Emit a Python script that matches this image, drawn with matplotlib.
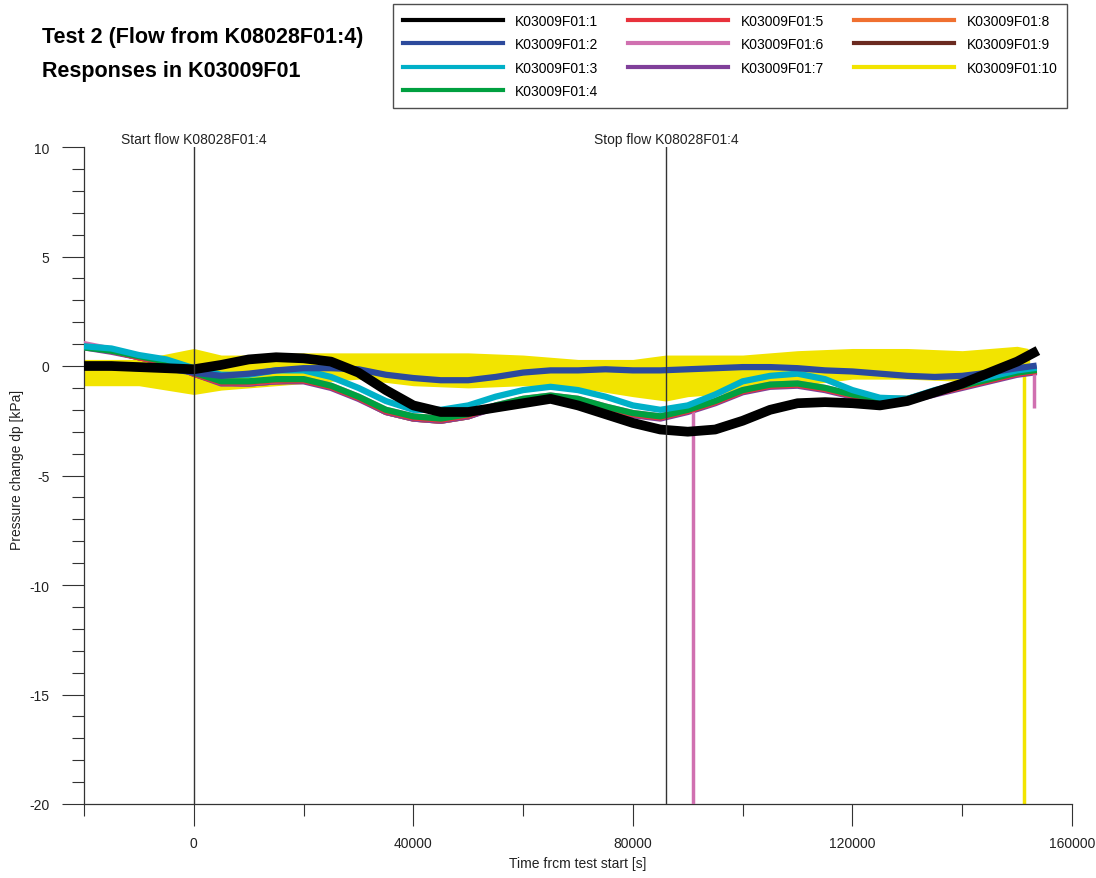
import matplotlib
matplotlib.use("Agg")
import matplotlib.pyplot as plt
from matplotlib.ticker import MultipleLocator, FixedLocator

plt.rcParams['font.family'] = ['Liberation Sans', 'DejaVu Sans']
plt.rcParams['axes.unicode_minus'] = False

# time axis (s) shared by the sensor traces
t = [-20000, -15000, -10000, -5000, 0, 5000, 10000, 15000, 20000, 25000,
     30000, 35000, 40000, 45000, 50000, 55000, 60000, 65000, 70000, 75000,
     80000, 85000, 90000, 95000, 100000, 105000, 110000, 115000, 120000,
     125000, 130000, 135000, 140000, 145000, 150000, 153000]

# pressure change dp [kPa]
dp1 = [0.0, 0.0, -0.05, -0.1, -0.15, 0.05, 0.3, 0.4, 0.35, 0.2, -0.3, -1.1,
       -1.8, -2.1, -2.1, -1.9, -1.7, -1.5, -1.8, -2.2, -2.6, -2.9, -3.0, -2.9,
       -2.5, -2.0, -1.7, -1.65, -1.7, -1.8, -1.6, -1.2, -0.8, -0.3, 0.2, 0.6]
dp2 = [0.0, -0.05, -0.1, -0.1, -0.3, -0.45, -0.35, -0.2, -0.1, -0.1, -0.15,
       -0.4, -0.55, -0.65, -0.65, -0.5, -0.3, -0.2, -0.2, -0.15, -0.2, -0.2,
       -0.15, -0.1, -0.05, -0.05, -0.1, -0.2, -0.25, -0.35, -0.45, -0.5, -0.45,
       -0.3, -0.1, 0.0]
dp3 = [0.9, 0.8, 0.5, 0.3, -0.1, -0.4, -0.4, -0.2, -0.2, -0.5, -1.0, -1.6,
       -2.0, -2.0, -1.8, -1.4, -1.1, -0.95, -1.1, -1.4, -1.8, -2.0, -1.8, -1.3,
       -0.7, -0.45, -0.35, -0.6, -1.1, -1.45, -1.5, -1.1, -0.8, -0.5, -0.2, -0.1]
dp4 = [0.85, 0.7, 0.45, 0.2, -0.3, -0.7, -0.7, -0.6, -0.6, -0.9, -1.4, -2.0,
       -2.3, -2.4, -2.2, -1.8, -1.5, -1.35, -1.5, -1.85, -2.15, -2.3, -2.0,
       -1.6, -1.1, -0.85, -0.8, -1.0, -1.3, -1.5, -1.5, -1.2, -0.9, -0.6, -0.3,
       -0.2]
dp5 = [0.9, 0.7, 0.4, 0.15, -0.35, -0.75, -0.75, -0.65, -0.65, -0.95, -1.45,
       -2.05, -2.35, -2.45, -2.25, -1.85, -1.55, -1.4, -1.55, -1.9, -2.2, -2.35,
       -2.05, -1.65, -1.15, -0.9, -0.85, -1.05, -1.35, -1.55, -1.55, -1.25,
       -0.95, -0.65, -0.35, -0.25]
dp6 = [1.0, 0.75, 0.45, 0.2, -0.3, -0.7, -0.75, -0.65, -0.6, -0.9, -1.4, -2.0,
       -2.3, -2.4, -2.2, -1.8, -1.5, -1.35, -1.5, -1.85, -2.15, -2.3, -2.0,
       -1.6, -1.1, -0.85, -0.8, -1.0, -1.3, -1.5, -1.5, -1.2, -0.9, -0.6, -0.3,
       -0.2]
dp7 = [0.85, 0.65, 0.4, 0.15, -0.35, -0.8, -0.8, -0.7, -0.7, -1.0, -1.5, -2.1,
       -2.4, -2.5, -2.3, -1.9, -1.6, -1.45, -1.6, -1.95, -2.25, -2.4, -2.1,
       -1.7, -1.2, -0.95, -0.9, -1.1, -1.4, -1.6, -1.6, -1.3, -1.0, -0.7, -0.4,
       -0.3]
dp8 = [0.9, 0.7, 0.4, 0.15, -0.35, -0.75, -0.8, -0.7, -0.65, -0.95, -1.45,
       -2.1, -2.4, -2.5, -2.3, -1.85, -1.55, -1.4, -1.55, -1.9, -2.2, -2.35,
       -2.05, -1.65, -1.15, -0.9, -0.85, -1.05, -1.35, -1.55, -1.55, -1.25,
       -0.95, -0.65, -0.35, -0.25]
dp9 = dp8

# the yellow trace is mostly noise: envelope
t10 = [-20000, -10000, 0, 5000, 10000, 20000, 30000, 40000, 50000, 60000,
       70000, 80000, 86000, 90000, 100000, 110000, 120000, 130000, 140000,
       150000, 152000]
dp10_hi = [0.3, 0.3, 0.8, 0.5, 0.5, 0.6, 0.6, 0.6, 0.6, 0.5, 0.3, 0.3, 0.5,
           0.5, 0.5, 0.7, 0.8, 0.8, 0.7, 0.9, 0.8]
dp10_lo = [-0.9, -0.9, -1.3, -1.1, -1.0, -0.8, -0.6, -0.9, -1.0, -0.9, -1.0,
           -1.4, -1.6, -1.4, -1.2, -0.9, -0.6, -0.6, -0.7, -0.5, -0.4]
dp10_mid = [-0.3, -0.3, -0.2, -0.3, -0.2, 0.0, -0.1, -0.1, -0.1, -0.1, -0.4,
            -0.6, -0.5, -0.5, -0.4, -0.1, 0.1, 0.1, 0.0, 0.2, 0.2]

# single drop-outs: (time, from, to)
spike6 = (91000, -2.0, -20)
drop6 = (153000, -0.2, -1.9)
spike10 = (151300, -0.3, -20)

start_flow = 0
stop_flow = 86000

labels = ['K03009F01:%d' % i for i in range(1, 11)]
colors = ['#000000', '#2c4a9c', '#00b0c8', '#00a040', '#e8323c',
          '#d070b0', '#80409a', '#f07030', '#6b2a20', '#f2e400']
series = [dp1, dp2, dp3, dp4, dp5, dp6, dp7, dp8, dp9]

fig = plt.figure(figsize=(10.96, 8.79), dpi=100)
ax = fig.add_axes([84 / 1096, 74 / 879, 988 / 1096, 657 / 879])

# draw from the last channel up so that channel 1 ends on top
ax.fill_between(t10, dp10_lo, dp10_hi, color=colors[9], lw=0, zorder=1)
ax.plot(t10, dp10_mid, color=colors[9], lw=3, label=labels[9], zorder=1)
ax.vlines(spike10[0], spike10[2], spike10[1], color=colors[9], lw=2.5, zorder=1)
for i in range(8, -1, -1):
    lw = 7 if i == 0 else 4.5
    ax.plot(t, series[i], color=colors[i], lw=lw, label=labels[i],
            zorder=11 - i)
ax.vlines(spike6[0], spike6[2], spike6[1], color=colors[5], lw=2.5, zorder=6)
ax.vlines(drop6[0], drop6[2], drop6[1], color=colors[5], lw=2.5, zorder=6)

axis_col = '#333333'
for x0, txt in [(start_flow, 'Start flow K08028F01:4'),
                (stop_flow, 'Stop flow K08028F01:4')]:
    ax.axvline(x0, color=axis_col, lw=1.0, zorder=20)
    ax.annotate(txt, (x0, 10), xytext=(0, 6), textcoords='offset points',
                ha='center', va='center', fontsize=10, color='#222222',
                annotation_clip=False)

ax.set_xlim(-20000, 160000)
ax.set_ylim(-20, 10)
ax.xaxis.set_major_locator(FixedLocator([0, 40000, 80000, 120000, 160000]))
ax.xaxis.set_minor_locator(MultipleLocator(20000))
ax.yaxis.set_major_locator(MultipleLocator(5))
ax.yaxis.set_minor_locator(MultipleLocator(1))
ax.tick_params(which='major', direction='out', length=16, width=0.8,
               color=axis_col, labelsize=10, labelcolor='#222222')
ax.tick_params(axis='x', which='major', pad=7)
ax.tick_params(axis='y', which='major', pad=9)
ax.tick_params(which='minor', direction='out', length=8.5, width=0.8,
               color=axis_col)
for s in ['top', 'right']:
    ax.spines[s].set_visible(False)
for s in ['left', 'bottom']:
    ax.spines[s].set_color(axis_col)
    ax.spines[s].set_linewidth(0.9)

ax.set_xlabel('Time frcm test start [s]', fontsize=10, color='#222222')
ax.set_ylabel('Pressure change dp [kPa]', fontsize=10, color='#222222')
ax.xaxis.set_label_coords(0.5, -0.09)
ax.xaxis.label.set_va('center')
ax.yaxis.set_label_coords(-0.068, 0.51)
ax.yaxis.label.set_va('center')

fig.text(42 / 1096, 1 - 38 / 879, 'Test 2 (Flow from K08028F01:4)',
         fontsize=15.5, fontweight='bold', va='center')
fig.text(42 / 1096, 1 - 72 / 879, 'Responses in K03009F01',
         fontsize=15.5, fontweight='bold', va='center')

handles, labs = ax.get_legend_handles_labels()
order = sorted(range(len(labs)), key=lambda k: int(labs[k].split(':')[1]))
leg = fig.legend([handles[k] for k in order], [labs[k] for k in order],
                 loc='upper left', bbox_to_anchor=(393 / 1096, 1 - 5 / 879),
                 ncol=3, fontsize=10, frameon=True, fancybox=False,
                 edgecolor='#222222', handlelength=7.2, handletextpad=0.9,
                 columnspacing=2.15, labelspacing=0.68, borderpad=0.7,
                 borderaxespad=0)
leg.get_frame().set_linewidth(1.0)
for h in leg.legend_handles:
    h.set_linewidth(3)

fig.savefig('out.png', dpi=100)
